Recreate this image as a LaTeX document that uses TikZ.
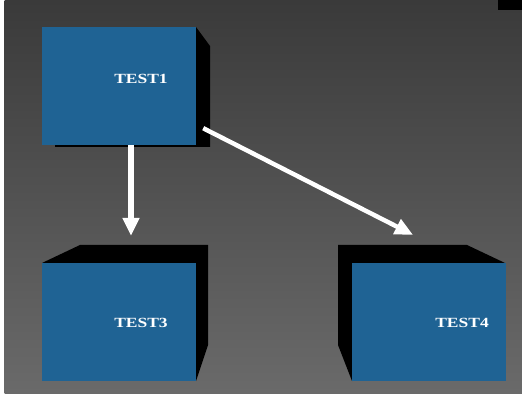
\documentclass[tikz,border=0pt]{standalone}
\usepackage{fontspec}
\usepackage{xcolor}
\usetikzlibrary{positioning,arrows.meta}
\newfontfamily\boxfont[FakeStretch=1.25]{Liberation Serif}
\definecolor{boxblue}{RGB}{31,99,148}
\definecolor{bgtop}{RGB}{58,58,58}
\definecolor{bgbottom}{RGB}{106,106,106}
\tikzset{
  cube/.style={rectangle, fill=boxblue, inner sep=0pt, minimum width=154pt, minimum height=118pt},
  cubelabel/.style={text=white, font=\boxfont\bfseries\fontsize{14}{14}\selectfont, inner sep=0pt},
  flow/.style={draw=white, line width=4.5pt, -{Triangle[length=18pt,width=16pt]}}
}
\begin{document}
\begin{tikzpicture}[x=1pt,y=-1pt]
\useasboundingbox (0,0) rectangle (522,395);
\fill [white] (0,0) rectangle (522,395);
\shade [top color=bgtop, bottom color=bgbottom] (4.5,0) rectangle (522,393);
\fill [black] (498,0) rectangle (522,10);
% sides
\fill [black] (196,27) -- (210,46) -- (210,147) -- (55,147) -- (55,145) -- (196,145) -- cycle;
\fill [black] (42,263) -- (80,245) -- (208,245) -- (208,345) -- (196,381) -- (196,263) -- cycle;
\fill [black] (505,263) -- (467,245) -- (338,245) -- (338,345) -- (352,381) -- (352,263) -- cycle;
% fronts
\node [cube] (t1) at (119,86) {};
\node [cube] (t3) at (119,322) {};
\node [cube] (t4) at (428.5,322) {};
\node [cubelabel] (l1) at (141,79) {TEST1};
\node [cubelabel] (l3) at (141,323) {TEST3};
\node [cubelabel] (l4) at (462,323) {TEST4};
% arrows
\draw [flow, line width=5.5pt] ([xshift=12pt]t1.south) -- ([xshift=12pt,yshift=27pt]t3.north);
\draw [flow] ([xshift=7pt,yshift=17pt]t1.south east) -- ([xshift=-15.5pt,yshift=28pt]t4.north);
\end{tikzpicture}
\end{document}
